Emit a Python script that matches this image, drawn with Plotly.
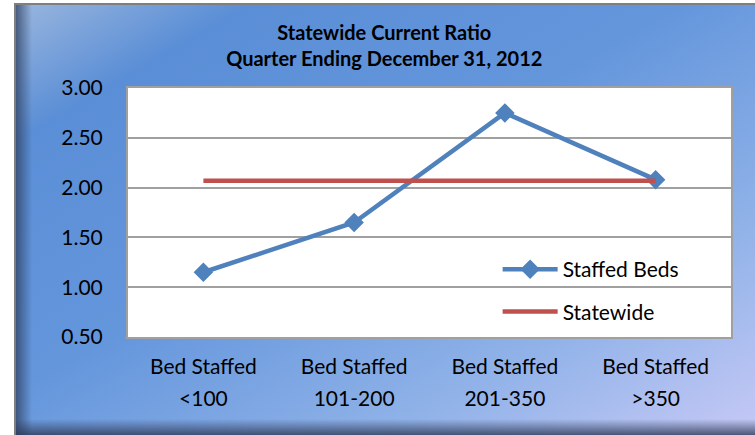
import base64
import plotly.graph_objects as go

# ---- data ----
category_line1 = ["Bed Staffed", "Bed Staffed", "Bed Staffed", "Bed Staffed"]
category_line2 = ["<100", "101-200", "201-350", ">350"]
staffed_beds = [1.15, 1.65, 2.75, 2.08]
statewide = [2.07, 2.07, 2.07, 2.07]
y_ticks = [0.5, 1.0, 1.5, 2.0, 2.5, 3.0]
y_ticktext = ["0.50", "1.00", "1.50", "2.00", "2.50", "3.00"]

W, H = 755, 435
ML, MR, MT, MB = 128, 24, 88, 98
PW, PH = W - ML - MR, H - MT - MB
FONT = "Lato"
FS = 21

# background gradient as SVG image
svg = f'''<svg xmlns="http://www.w3.org/2000/svg" width="{W}" height="{H}" viewBox="0 0 {W} {H}" preserveAspectRatio="none">
<defs>
<linearGradient id="g" x1="0" y1="0" x2="1" y2="1">
<stop offset="0" stop-color="#9ab6de"/>
<stop offset="0.16" stop-color="#5a8ed6"/>
<stop offset="0.45" stop-color="#6496dc"/>
<stop offset="0.75" stop-color="#90b2e8"/>
<stop offset="1" stop-color="#c6c9f6"/>
</linearGradient>
<linearGradient id="l" x1="0" y1="0" x2="1" y2="0">
<stop offset="0" stop-color="#2e4060" stop-opacity="0.75"/>
<stop offset="1" stop-color="#2e4060" stop-opacity="0"/>
</linearGradient>
<linearGradient id="b" x1="0" y1="0" x2="0" y2="1">
<stop offset="0" stop-color="#2e3a58" stop-opacity="0"/>
<stop offset="1" stop-color="#2e3a58" stop-opacity="0.8"/>
</linearGradient>
</defs>
<rect x="0" y="0" width="{W}" height="{H}" fill="#ffffff"/>
<rect x="15" y="3" width="{W-15}" height="{H-3}" fill="url(#g)"/>
<rect x="16" y="5" width="16" height="{H-5}" fill="url(#l)"/>
<rect x="15" y="{H-16}" width="{W-15}" height="16" fill="url(#b)"/>
<rect x="14" y="3" width="2" height="{H-3}" fill="#7f7f7f"/>
<rect x="14" y="3" width="{W-14}" height="2" fill="#7f7f7f"/>
</svg>'''
src = "data:image/svg+xml;base64," + base64.b64encode(svg.encode()).decode()

x_idx = list(range(len(category_line1)))

fig = go.Figure()
fig.add_trace(go.Scatter(
    x=x_idx, y=staffed_beds, mode="lines+markers", name="Staffed Beds",
    legendgroup="a",
    line=dict(color="#4f81bd", width=4.5),
    marker=dict(symbol="diamond", size=15, color="#4f81bd"),
))
fig.add_trace(go.Scatter(
    x=x_idx, y=statewide, mode="lines", name="Statewide",
    legendgroup="b",
    line=dict(color="#c0504d", width=4.5),
))
# invisible helper trace so the second x axis is drawn
fig.add_trace(go.Scatter(x=x_idx, y=staffed_beds, xaxis="x2", mode="none",
                         showlegend=False, hoverinfo="skip"))

fig.update_layout(
    width=W, height=H,
    margin=dict(l=ML, r=MR, t=MT, b=MB),
    paper_bgcolor="#5b8fd6",
    plot_bgcolor="#ffffff",
    font=dict(family=FONT, size=FS, color="#000000"),
    title=dict(
        text="<b>Statewide Current Ratio</b><br><b>Quarter Ending December 31, 2012</b>",
        x=0.509, xanchor="center", xref="container", y=0.908, yanchor="middle",
        font=dict(family=FONT, size=20, color="#000000"),
    ),
    images=[dict(source=src, xref="paper", yref="paper", x=-ML/PW, y=1+MT/PH,
                 sizex=W/PW, sizey=H/PH, sizing="stretch", layer="below",
                 xanchor="left", yanchor="top")],
    shapes=[dict(type="rect", xref="paper", yref="paper", x0=0, x1=1, y0=0, y1=1,
                 fillcolor="#ffffff", line=dict(width=0), layer="below")],
    showlegend=True,
    legend=dict(
        x=0.613, y=0.353, xanchor="left", yanchor="top",
        bgcolor="rgba(0,0,0,0)", font=dict(family=FONT, size=FS),
        tracegroupgap=12, itemwidth=55,
    ),
    xaxis=dict(
        range=[-0.5, 3.5], tickmode="array", tickvals=x_idx, ticktext=category_line1,
        showgrid=False, zeroline=False, showline=True, linecolor="#a0a0a0", linewidth=2,
        mirror=True, ticks="", ticklabelstandoff=10, tickfont=dict(size=FS),
    ),
    xaxis2=dict(
        overlaying="x", side="bottom", anchor="y", range=[-0.5, 3.5],
        tickmode="array", tickvals=x_idx, ticktext=category_line2,
        showgrid=False, zeroline=False, showline=False, ticks="",
        ticklabelstandoff=47, tickfont=dict(size=FS),
    ),
    yaxis=dict(
        range=[0.5, 3.0], tickmode="array", tickvals=y_ticks, ticktext=y_ticktext,
        showgrid=True, gridcolor="#a0a0a0", gridwidth=1.5, zeroline=False,
        showline=True, linecolor="#a0a0a0", linewidth=2, mirror=True,
        ticks="", ticklabelstandoff=19, tickfont=dict(size=FS),
    ),
)

fig.write_html("out.html", config={"displayModeBar": False},
               post_script="document.body.style.margin='0';document.body.style.overflow='hidden';")
